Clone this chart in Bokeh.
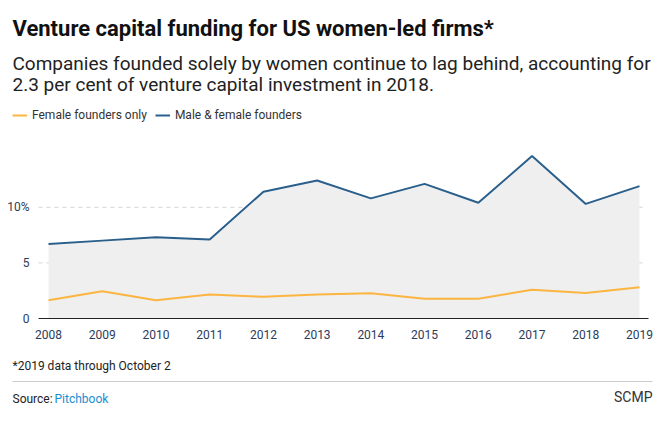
from bokeh.plotting import figure
from bokeh.models import (Range1d, FixedTicker, Label, Legend, LegendItem)
from bokeh.embed import file_html
from bokeh.resources import INLINE

years = [2008, 2009, 2010, 2011, 2012, 2013, 2014, 2015, 2016, 2017, 2018, 2019]
female_only = [1.65, 2.45, 1.65, 2.15, 1.95, 2.15, 2.28, 1.77, 1.77, 2.58, 2.3, 2.8]
male_female = [6.7, 7.0, 7.3, 7.1, 11.4, 12.4, 10.8, 12.1, 10.4, 14.6, 10.3, 11.9]
y_ticks = [0, 5, 10]
y_tick_labels = {0: "0", 5: "5", 10: "10%"}

ORANGE = "#fbb540"
BLUE = "#2a5f8c"
NAVY = "#2c3b5a"
FONT = "Roboto"

W, H = 672, 430
# pixel geometry of the data area
PX_2008, PX_2019 = 48, 639
PY_0, PY_PER_UNIT = 318, 11.125
FL, FR = 38, 648          # axis line extent
XPU = (PX_2019 - PX_2008) / 11.0


def px_x(px):
    return 2008 + (px - PX_2008) / XPU


def px_y(py):
    return (PY_0 - py) / PY_PER_UNIT


p = figure(width=W, height=H, output_backend="svg", toolbar_location=None,
           x_range=Range1d(px_x(0), px_x(W)), y_range=Range1d(px_y(H), px_y(0)),
           min_border=0)
p.outline_line_color = None
p.background_fill_color = "white"
p.border_fill_color = "white"

# grid lines (dashed)
grid_vals = [t for t in y_ticks if t > 0]
p.segment(x0=[px_x(FL)] * len(grid_vals), x1=[px_x(646)] * len(grid_vals),
          y0=grid_vals, y1=grid_vals, line_color="#d4d4d4", line_width=1,
          line_dash="4 4")

# area + lines
p.varea(x=years, y1=[0] * len(years), y2=male_female, fill_color="#efefef")
r_f = p.line(years, female_only, line_color=ORANGE, line_width=2)
r_m = p.line(years, male_female, line_color=BLUE, line_width=2)

# axes at fixed locations inside the canvas
p.xaxis.fixed_location = 0
p.xaxis.bounds = (px_x(FL), px_x(FR))
p.xaxis.ticker = FixedTicker(ticks=years)
p.xaxis.axis_line_color = "#222222"
p.xaxis.axis_line_width = 1
p.xaxis.major_tick_line_color = None
p.xaxis.minor_tick_line_color = None
p.xaxis.major_label_text_font = FONT
p.xaxis.major_label_text_font_size = "12px"
p.xaxis.major_label_text_color = NAVY
p.xaxis.major_label_standoff = 5

p.yaxis.fixed_location = px_x(FL)
p.yaxis.ticker = FixedTicker(ticks=y_ticks)
p.yaxis.major_label_overrides = y_tick_labels
p.yaxis.axis_line_color = None
p.yaxis.major_tick_line_color = None
p.yaxis.minor_tick_line_color = None
p.yaxis.major_label_text_font = FONT
p.yaxis.major_label_text_font_size = "12px"
p.yaxis.major_label_text_color = NAVY
p.yaxis.major_label_standoff = 3

p.xgrid.grid_line_color = None
p.ygrid.grid_line_color = None

# legend
legend = Legend(items=[LegendItem(label="Female founders only", renderers=[r_f]),
                       LegendItem(label="Male & female founders", renderers=[r_m])],
                orientation="horizontal", location=(12, H - 122),
                glyph_width=15, glyph_height=14, label_height=14,
                label_standoff=5, spacing=8, padding=0, margin=0,
                border_line_color=None, background_fill_alpha=0,
                label_text_font=FONT, label_text_font_size="12px",
                label_text_color="#333333")
p.add_layout(legend, "center")


def add_text(px, py, text, size, color="#111111", style="normal", align="left"):
    p.add_layout(Label(x=px_x(px), y=px_y(py), text=text, text_font=FONT,
                       text_font_size=size, text_color=color, text_font_style=style,
                       text_align=align, text_baseline="middle"))


add_text(12, 28, "Venture capital funding for US women-led firms*", "22px", "#111111", "bold")
add_text(12, 63, "Companies founded solely by women continue to lag behind, accounting for", "19px", "#222222")
add_text(12, 84, "2.3 per cent of venture capital investment in 2018.", "19px", "#222222")
add_text(12, 365, "*2019 data through October 2", "12px", "#222222")
add_text(12, 398, "Source:", "12px", "#222222")
add_text(54, 398, "Pitchbook", "12px", "#1a8ed1")
add_text(652, 396, "SCMP", "14px", "#333333", align="right")

# separator line
p.segment(x0=[px_x(12)], x1=[px_x(652)], y0=[px_y(381)], y1=[px_y(381)],
          line_color="#cccccc", line_width=1)

open("out.html", "w").write(file_html(p, INLINE))
